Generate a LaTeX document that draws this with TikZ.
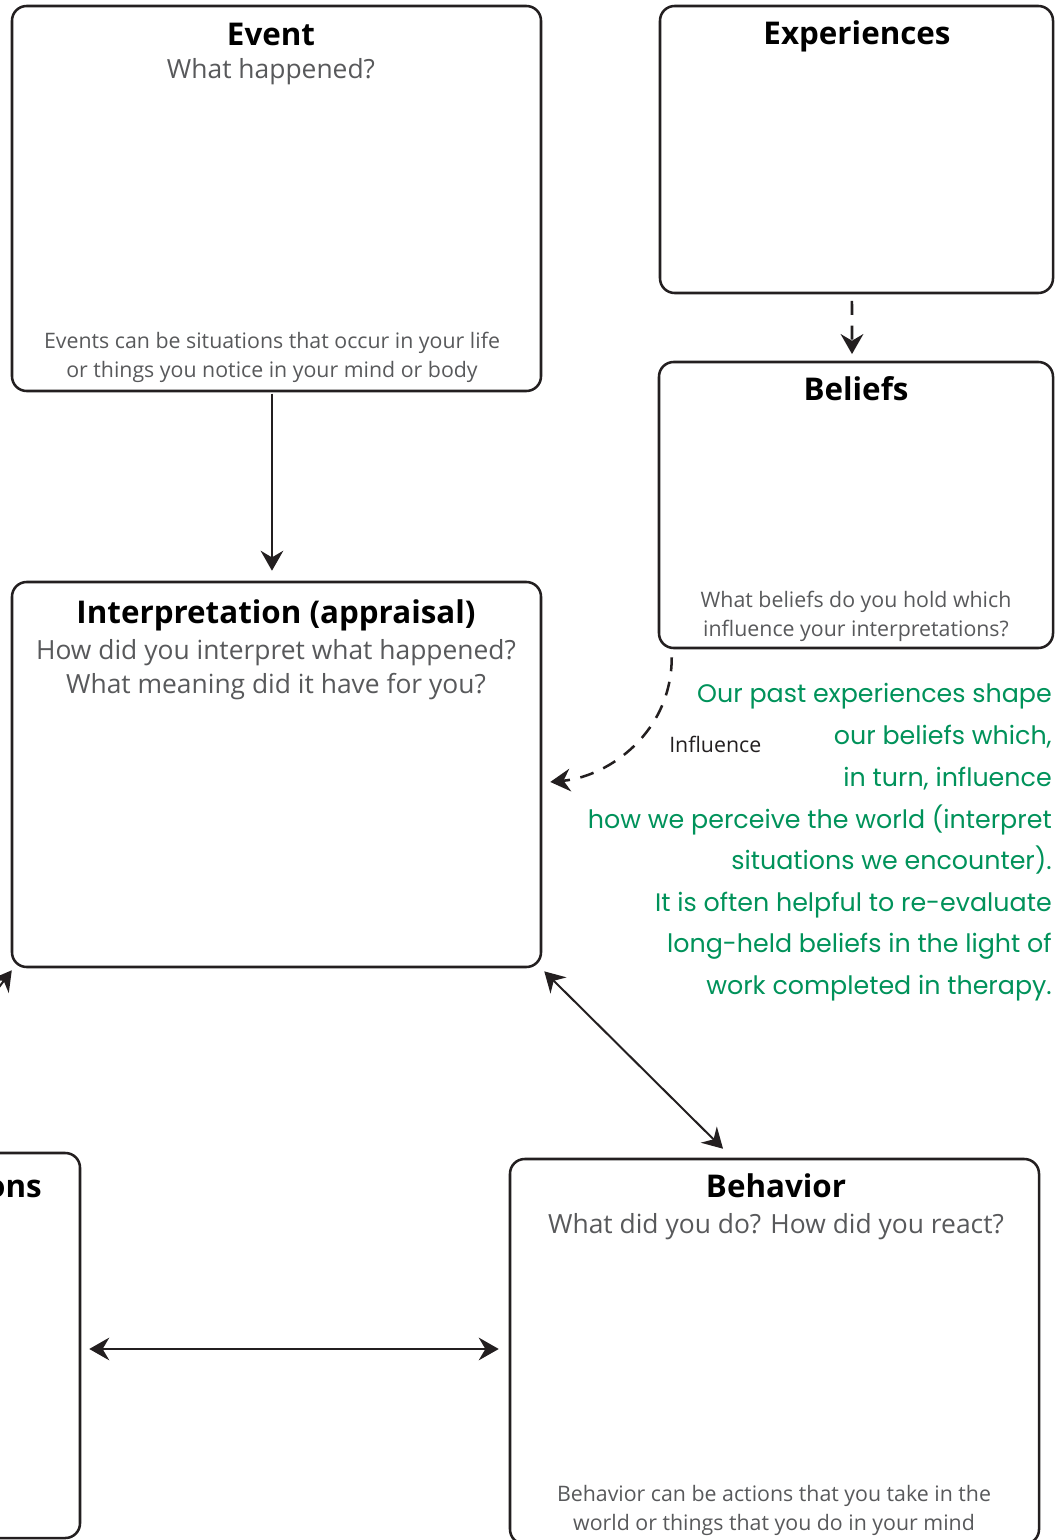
\documentclass[tikz,border=0pt]{standalone}
\usepackage{fontspec}
\setmainfont{Open Sans}
\newfontfamily\handfont{Poppins}
\usetikzlibrary{arrows.meta}
\definecolor{ink}{HTML}{231F20}
\definecolor{subgray}{HTML}{58595B}
\definecolor{notegreen}{RGB}{0,146,90}
\begin{document}
\begin{tikzpicture}[x=0.75pt,y=-0.75pt,
  card/.style={draw=ink, line width=1.9pt, rounded corners=11pt, inner sep=0pt},
  title/.style={anchor=base, font=\bfseries\fontsize{23.5}{28}\selectfont, text=black, inner sep=0pt},
  prompt/.style={anchor=base, font=\fontsize{19.8}{24}\selectfont, text=subgray, inner sep=0pt},
  hint/.style={anchor=base, font=\fontsize{16}{19}\selectfont, text=subgray, inner sep=0pt},
  note/.style={anchor=base east, font=\handfont\fontsize{19}{22}\selectfont, text=notegreen, inner sep=0pt},
  tip/.tip={Stealth[length=15pt, width=17pt, inset=5pt]},
  link/.style={draw=ink, line width=1.5pt, -tip},
  twoway/.style={draw=ink, line width=1.5pt, tip-tip},
  soft/.style={link, line width=1.9pt, dash pattern=on 10.5pt off 8pt}]
\useasboundingbox (0,0) rectangle (1062,1540);
\clip (0,0) rectangle (1062,1540);

% boxes
\node[card, minimum width=396.75pt, minimum height=288.75pt] (ev)  at (276.5,198.5) {};
\node[card, minimum width=294.75pt, minimum height=215.25pt] (exp) at (856.5,149.5) {};
\node[card, minimum width=295.5pt,  minimum height=214.5pt]  (bel) at (856,505) {};
\node[card, minimum width=396.75pt, minimum height=288.75pt] (int) at (276.5,774.5) {};
\node[card, minimum width=396.75pt, minimum height=288.75pt] (emo) at (-184.5,1345.5) {};
\node[card, minimum width=396.75pt, minimum height=288.75pt] (beh) at (774.5,1351.5) {};

% Event
\node[title]  (evT)  at (271,46)  {Event};
\node[prompt] (evP)  at (271,79)  {What happened?};
\node[hint]   (evH1) at (272,349) {Events can be situations that occur in your life};
\node[hint]   (evH2) at (272,378) {or things you notice in your mind or body};

% Experiences and Beliefs
\node[title]  (expT) at (857,45)  {Experiences};
\node[title]  (belT) at (856,401) {Beliefs};
\node[hint]   (belH1) at (856,607) {What beliefs do you hold which};
\node[hint]   (belH2) at (856,636) {influence your interpretations?};

% Interpretation
\node[title]  (intT)  at (276,623) {Interpretation (appraisal)};
\node[prompt] (intP1) at (276,659) {How did you interpret what happened?};
\node[prompt] (intP2) at (276,693) {What meaning did it have for you?};

% Emotions and Behavior
\node[title, anchor=base east] (emoT) at (42,1197) {ons};
\node[title]  (behT)  at (776,1197) {Behavior};
\node[prompt] (behP)  at (776,1233) {What did you do? How did you react?};
\node[hint]   (behH1) at (774,1501) {Behavior can be actions that you take in the};
\node[hint]   (behH2) at (774,1530) {world or things that you do in your mind};

% handwritten note
\node[note] (n1) at (1052,702) {Our past experiences shape};
\node[note] (n2) at (1052,744) {our beliefs which,};
\node[note] (n3) at (1052,786) {in turn, influence};
\node[note] (n4) at (1052,828) {how we perceive the world (interpret};
\node[note] (n5) at (1052,869) {situations we encounter).};
\node[note] (n6) at (1052,911) {It is often helpful to re-evaluate};
\node[note] (n7) at (1052,952) {long-held beliefs in the light of};
\node[note] (n8) at (1052,994) {work completed in therapy.};

% connectors
\draw[link] ([xshift=-3.4pt,yshift=-1pt]ev.south) -- ([xshift=-3.4pt,yshift=7.5pt]int.north);
\draw[soft] ([xshift=-3.4pt,yshift=-5pt]exp.south) -- ([xshift=-3pt,yshift=5pt]bel.north);
\draw[soft] ([xshift=10.5pt,yshift=-6pt]bel.south west)
  .. controls ++(0,75) and ([xshift=50pt,yshift=-1.5pt]int.east) .. ([xshift=6pt,yshift=-5.6pt]int.east);
\node[anchor=base west, font=\fontsize{16}{19}\selectfont, text=ink, inner sep=0pt] (inflT) at (669,752) {Influence};
\draw[twoway] ([shift={(1.5pt,-2.3pt)}]int.south east) -- ([shift={(-38.6pt,6.75pt)}]beh.north);
\draw[twoway] ([shift={(6pt,-2.6pt)}]emo.east) -- ([shift={(-7.5pt,1.9pt)}]beh.west);
\coordinate (lowleft) at (-60,1065);
\draw[link] (lowleft) -- ([shift={(0.8pt,-1.5pt)}]int.south west);
\end{tikzpicture}
\end{document}
